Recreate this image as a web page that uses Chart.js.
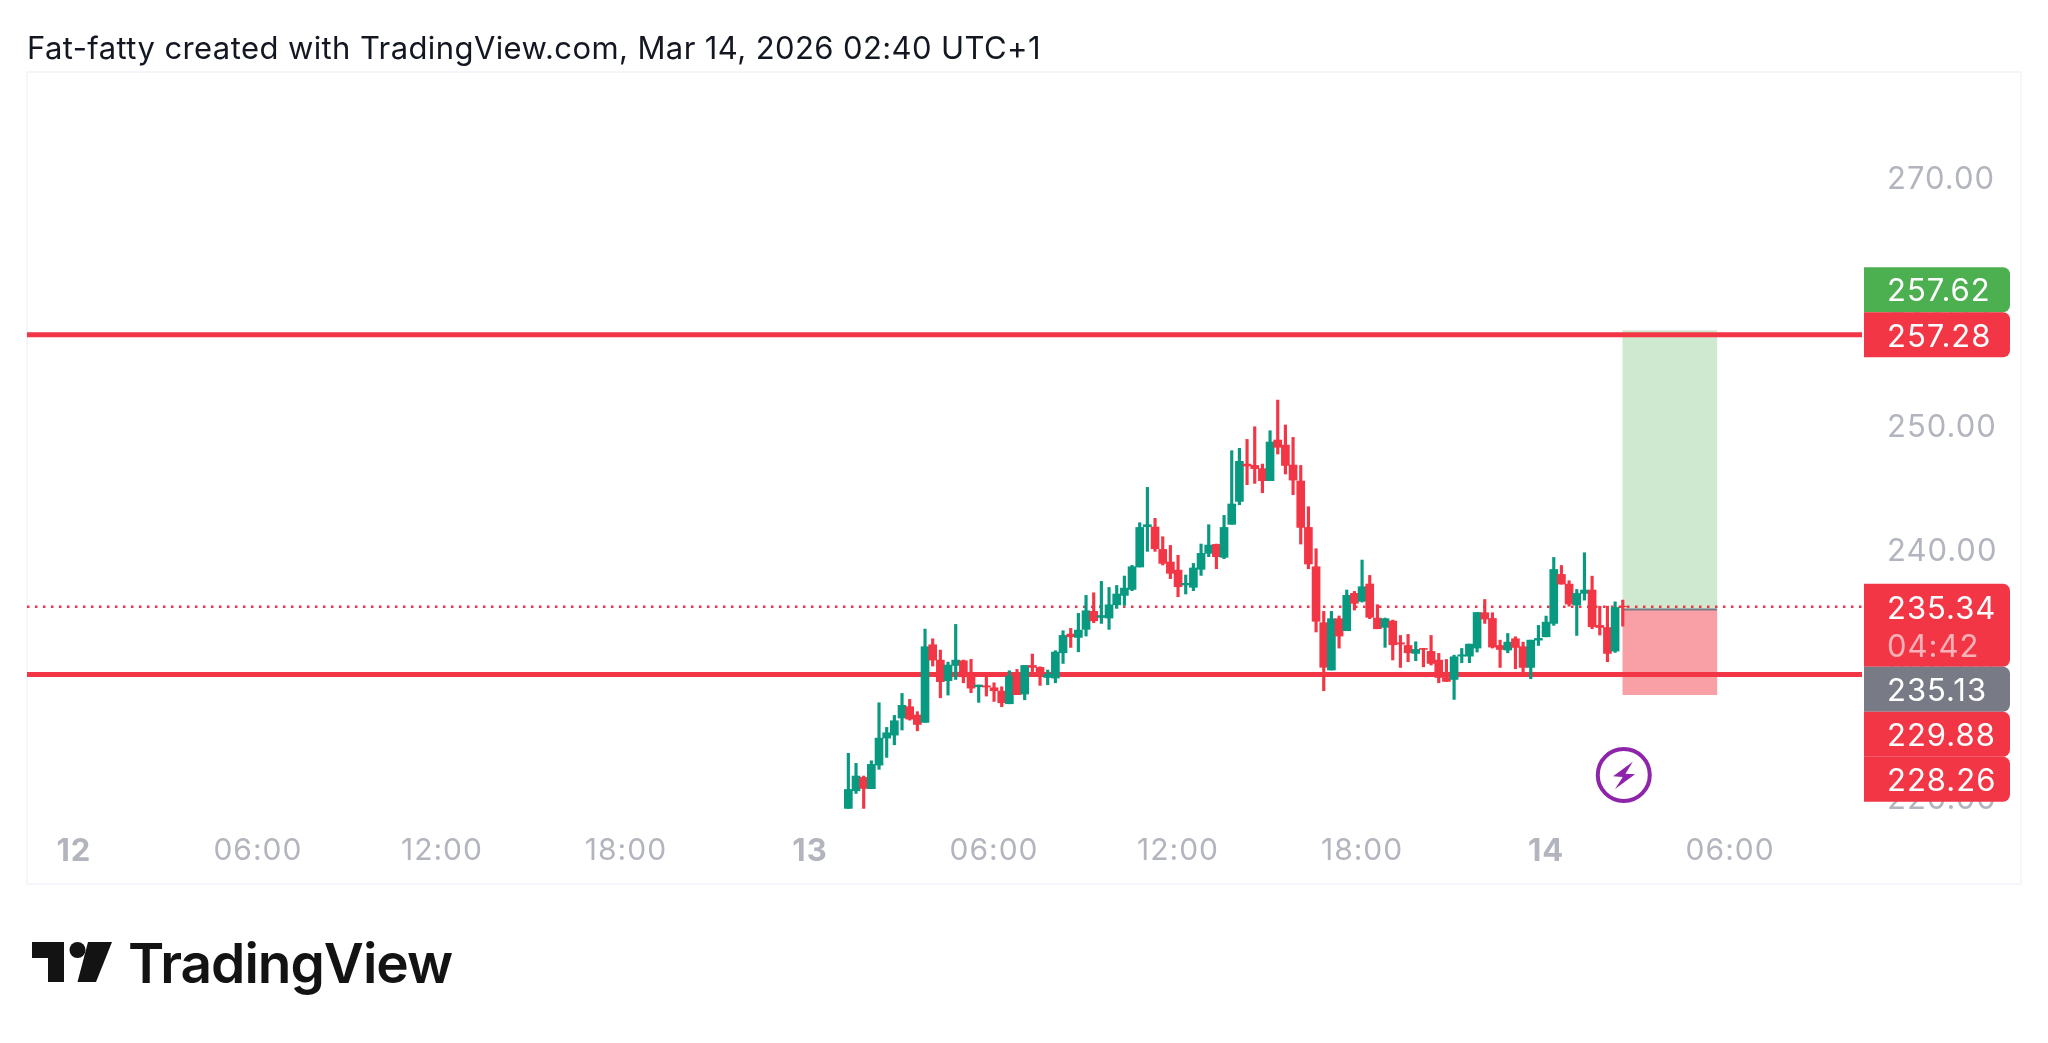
<!DOCTYPE html>
<html>
<head>
<meta charset="utf-8">
<script src="https://cdn.jsdelivr.net/npm/chart.js@4/dist/chart.umd.min.js"></script>
<style>
html,body{margin:0;padding:0;background:#fff;width:2048px;height:1043px;overflow:hidden}
#c{position:absolute;left:0;top:0}
#title{position:absolute;left:27px;top:27px;font:31px/42px Inter,sans-serif;color:#131722;white-space:nowrap;letter-spacing:0.4px}
#logoText{position:absolute;left:128px;top:930px;font:600 55px/66px Inter,sans-serif;color:#131313;white-space:nowrap;letter-spacing:-1px}
#mark{position:absolute;left:32px;top:942px}
</style>
</head>
<body>
<canvas id="c" width="2048" height="1043"></canvas>
<div id="title">Fat-fatty created with TradingView.com, Mar 14, 2026 02:40 UTC+1</div>
<svg id="mark" width="81" height="40" viewBox="0 0 81 40"><path fill="#131313" d="M0 0H32V40H16V16H0Z"/><circle fill="#131313" cx="45.5" cy="8" r="8"/><path fill="#131313" d="M56 0H80L64 40H45.500Z"/></svg>
<script>
const firstCandleHour = 25.25;
const candleStepHours = 0.25;
const opens = [219.08,220.50,221.58,220.67,222.57,224.75,224.99,226.37,227.28,226.61,226.02,232.28,231.04,229.38,230.61,230.99,229.97,228.89,228.97,228.81,228.54,227.52,230.02,228.30,230.61,230.45,229.64,229.59,231.63,233.14,232.87,233.52,234.97,234.48,234.43,235.50,236.26,
236.74,238.55,241.80,241.77,239.97,238.95,238.30,237.10,236.91,238.36,239.65,240.37,239.33,241.99,243.84,246.85,246.74,246.48,245.51,248.79,248.38,246.77,245.48,241.74,238.57,234.06,230.24,234.38,233.41,236.42,235.78,237.18,234.43,233.68,234.19,
232.44,232.22,231.58,231.98,231.74,231.04,229.64,229.48,231.36,231.36,232.01,234.86,234.40,232.22,231.85,232.76,232.12,230.45,232.65,232.92,234.00,237.95,237.17,235.48,236.42,236.69,233.84,233.67,231.77,235.39];
const closes = [220.61,221.69,220.69,222.63,224.75,225.18,226.15,227.39,226.28,225.85,232.12,231.04,229.30,230.64,231.04,229.70,228.78,229.03,228.87,228.57,227.60,229.75,228.25,230.61,230.45,229.75,229.91,231.69,233.03,232.92,233.46,235.02,234.21,234.64,235.50,236.37,236.85,
238.57,241.74,241.96,240.02,238.84,238.04,236.96,237.23,238.47,239.65,240.32,239.38,241.74,243.63,247.07,246.69,246.48,245.51,248.63,248.20,246.74,245.56,241.74,238.79,234.17,230.46,234.38,232.98,236.26,235.62,236.96,234.49,233.57,234.38,232.28,
232.33,231.63,231.90,231.90,230.77,229.64,229.32,231.31,231.47,232.33,234.88,234.35,232.09,231.90,232.49,232.06,230.45,232.65,232.79,234.10,238.35,237.17,235.56,236.42,236.69,233.73,233.67,231.58,235.29,235.34];
const highs = [223.52,222.71,221.69,222.92,227.60,225.61,226.58,228.35,227.87,226.88,233.54,232.76,231.85,230.88,233.92,231.04,231.10,229.03,229.70,229.21,228.89,230.18,230.29,230.61,231.53,230.50,230.24,231.80,233.41,233.60,234.81,236.26,236.47,237.39,236.90,237.06,237.82,
238.68,242.12,244.97,242.47,240.99,240.29,239.49,237.90,238.84,240.40,241.96,240.40,242.71,247.93,248.12,248.84,249.86,246.85,249.54,252.01,250.00,249.00,246.74,243.41,240.02,234.97,234.97,234.60,236.69,236.58,239.11,237.87,235.51,234.43,234.27,
233.03,233.11,232.52,231.98,233.03,231.58,231.09,231.44,231.98,232.33,234.88,235.93,234.86,232.65,233.19,232.92,232.49,232.65,233.84,234.59,239.32,238.67,237.44,236.74,239.70,237.81,235.39,235.39,235.74,235.88];
const lows = [219.08,220.29,219.08,220.67,222.23,223.19,224.21,225.40,226.20,225.34,226.02,230.56,228.00,228.22,229.48,229.21,228.41,227.63,228.14,227.71,227.28,227.52,228.25,227.84,229.70,229.00,229.05,229.21,230.77,232.06,231.71,232.98,234.05,234.00,233.52,235.21,235.45,
236.64,238.55,239.81,239.81,238.71,237.61,236.15,236.37,236.64,237.87,239.38,238.41,239.22,241.99,243.57,245.19,245.29,244.54,245.51,247.66,246.05,244.38,240.40,238.41,233.31,228.57,230.24,232.01,233.41,235.08,235.72,234.38,233.57,232.07,231.05,
230.45,230.91,230.99,230.50,230.64,229.21,229.32,227.87,230.83,230.83,231.69,234.00,232.01,230.45,231.63,230.34,230.07,229.54,232.22,232.92,233.84,237.17,235.39,233.03,235.88,233.57,233.06,230.91,231.66,233.78];

const timeTickHours = [0,6,12,18,24,30,36,42,48,54];
const timeTickLabels = ['12','06:00','12:00','18:00','13','06:00','12:00','18:00','14','06:00'];
const dayTickLabels = ['12','13','14'];
const priceTicks = [220,230,240,250,260,270];
const resistance = 257.28;
const support = 229.88;
const lastPrice = 235.34;
const countdown = '04:42';
const entryPrice = 235.13;
const targetPrice = 257.62;
const stopPrice = 228.26;
const positionStartHour = 50.5;
const positionEndHour = 53.57;
const hourMin = -1.53, hourMax = 58.3;
const priceMin = 218.79, priceMax = 278.47;
const labelNudge = 0.2;

const GREEN = '#089981', RED = '#f23645';
const times = opens.map((_, i) => firstCandleHour + i * candleStepHours);
const candleColors = opens.map((o, i) => closes[i] >= o ? GREEN : RED);
const wicks = times.map((x, i) => ({x, y: [lows[i], highs[i]]}));
const bodies = times.map((x, i) => ({x, y: [Math.min(opens[i], closes[i]), Math.max(opens[i], closes[i])]}));
const positionMid = (positionStartHour + positionEndHour) / 2;
const hline = (y, a = hourMin, b = hourMax) => [{x: a, y}, {x: b, y}];

const overlay = {
  id: 'overlay',
  beforeDraw(chart) {
    const c = chart.ctx;
    c.save();
    c.fillStyle = '#fff';
    c.fillRect(0, 0, 2048, 1043);
    c.strokeStyle = '#f0f3fa';
    c.lineWidth = 1.5;
    c.strokeRect(27, 72, 1994, 812);
    c.restore();
    c.letterSpacing = '1px';
  },
  afterDraw(chart) {
    const c = chart.ctx, ys = chart.scales.y, xs = chart.scales.x;
    const X = 1864, W = 146, H = 45, R = 7;
    const box = (top, h, col) => {
      c.fillStyle = col;
      c.beginPath();
      c.roundRect(X, top, W, h, [0, R, R, 0]);
      c.fill();
    };
    const text = (s, y, col) => {
      c.fillStyle = col;
      c.fillText(s, 1887, y);
    };
    c.save();
    c.font = '31px Inter, sans-serif';
    c.textAlign = 'left';
    c.textBaseline = 'middle';
    const res = ys.getPixelForValue(resistance);
    box(res - H / 2 - H, H, '#4caf50');
    text(targetPrice.toFixed(2), res - H + 2, '#fff');
    box(res - H / 2, H, RED);
    text(resistance.toFixed(2), res + 3, '#fff');

    const lastY = ys.getPixelForValue(lastPrice);
    let top = lastY - 23;
    box(top, 83, RED);
    text(lastPrice.toFixed(2), lastY + 3, '#fff');
    text(countdown, lastY + 41, 'rgba(255,255,255,0.62)');
    top += 83;
    box(top, H, '#787b86');
    text(entryPrice.toFixed(2), top + 25, '#fff');
    top += H;
    box(top, H, RED);
    text(support.toFixed(2), top + 25, '#fff');
    top += H;
    box(top, H, RED);
    text(stopPrice.toFixed(2), top + 25, '#fff');

    const cx = xs.getPixelForValue(positionStartHour) + 1, cy = 775;
    c.strokeStyle = '#8e24aa';
    c.lineWidth = 4;
    c.beginPath();
    c.arc(cx, cy, 26, 0, Math.PI * 2);
    c.stroke();
    c.fillStyle = '#8e24aa';
    c.beginPath();
    [[9, -13.3], [-10.7, 1.3], [-1, 2], [-8.7, 14], [11.3, -0.7], [1.7, -1.3]].forEach((p, i) => {
      if (i) c.lineTo(cx + p[0], cy + p[1]); else c.moveTo(cx + p[0], cy + p[1]);
    });
    c.closePath();
    c.fill();
    c.restore();
  }
};

new Chart(document.getElementById('c'), {
  type: 'bar',
  plugins: [overlay],
  data: {
    datasets: [
      {type: 'bar', label: 'Body', data: bodies, backgroundColor: candleColors, barThickness: 8, grouped: false, order: 1},
      {type: 'bar', label: 'Wick', data: wicks, backgroundColor: candleColors, barThickness: 2.5, grouped: false, order: 2},
      {type: 'line', label: 'Last', data: hline(lastPrice), borderColor: RED, borderWidth: 2.5, borderDash: [2.5, 5.5], pointRadius: 0, order: 3},
      {type: 'line', label: 'Resistance', data: hline(resistance), borderColor: RED, borderWidth: 5, pointRadius: 0, order: 4},
      {type: 'line', label: 'Support', data: hline(support), borderColor: RED, borderWidth: 5, pointRadius: 0, order: 4},
      {type: 'line', label: 'Entry', data: hline(entryPrice, positionStartHour, positionEndHour), borderColor: '#787b86', borderWidth: 2, pointRadius: 0, order: 5},
      {type: 'bar', label: 'Target zone', data: [{x: positionMid, y: [entryPrice, targetPrice]}], backgroundColor: 'rgba(76,175,80,0.27)', barThickness: 94, grouped: false, order: 6},
      {type: 'bar', label: 'Stop zone', data: [{x: positionMid, y: [stopPrice, entryPrice]}], backgroundColor: 'rgba(242,54,69,0.47)', barThickness: 94, grouped: false, order: 6}
    ]
  },
  options: {
    responsive: false,
    animation: false,
    events: [],
    layout: {padding: {left: 27, top: 72, right: 0, bottom: 0}},
    plugins: {legend: {display: false}, tooltip: {enabled: false}, title: {display: false}},
    scales: {
      x: {
        type: 'linear', offset: false, min: hourMin, max: hourMax,
        grid: {display: false, drawTicks: false}, border: {display: false},
        afterBuildTicks(s) { s.ticks = timeTickHours.map(value => ({value})); },
        afterFit(s) { s.height = 231; },
        ticks: {
          autoSkip: false, maxRotation: 0, minRotation: 0, padding: 21, color: '#b2b5be',
          font: ctx => {
            const day = dayTickLabels.includes(timeTickLabels[ctx.index]);
            return {family: 'Inter, sans-serif', size: day ? 31 : 30, weight: day ? '700' : '400'};
          },
          callback: (v, i) => timeTickLabels[i]
        }
      },
      y: {
        type: 'linear', position: 'right', min: priceMin, max: priceMax,
        grid: {display: false, drawTicks: false}, border: {display: false},
        afterBuildTicks(s) { s.ticks = priceTicks.map(value => ({value: value - labelNudge})); },
        afterFit(s) { s.width = 186; },
        ticks: {
          padding: 25, color: '#b2b5be', crossAlign: 'near',
          font: {family: 'Inter, sans-serif', size: 31},
          callback: (v, i) => priceTicks[i].toFixed(2)
        }
      }
    }
  }
});
</script>
<div id="logoText">TradingView</div>
</body>
</html>
